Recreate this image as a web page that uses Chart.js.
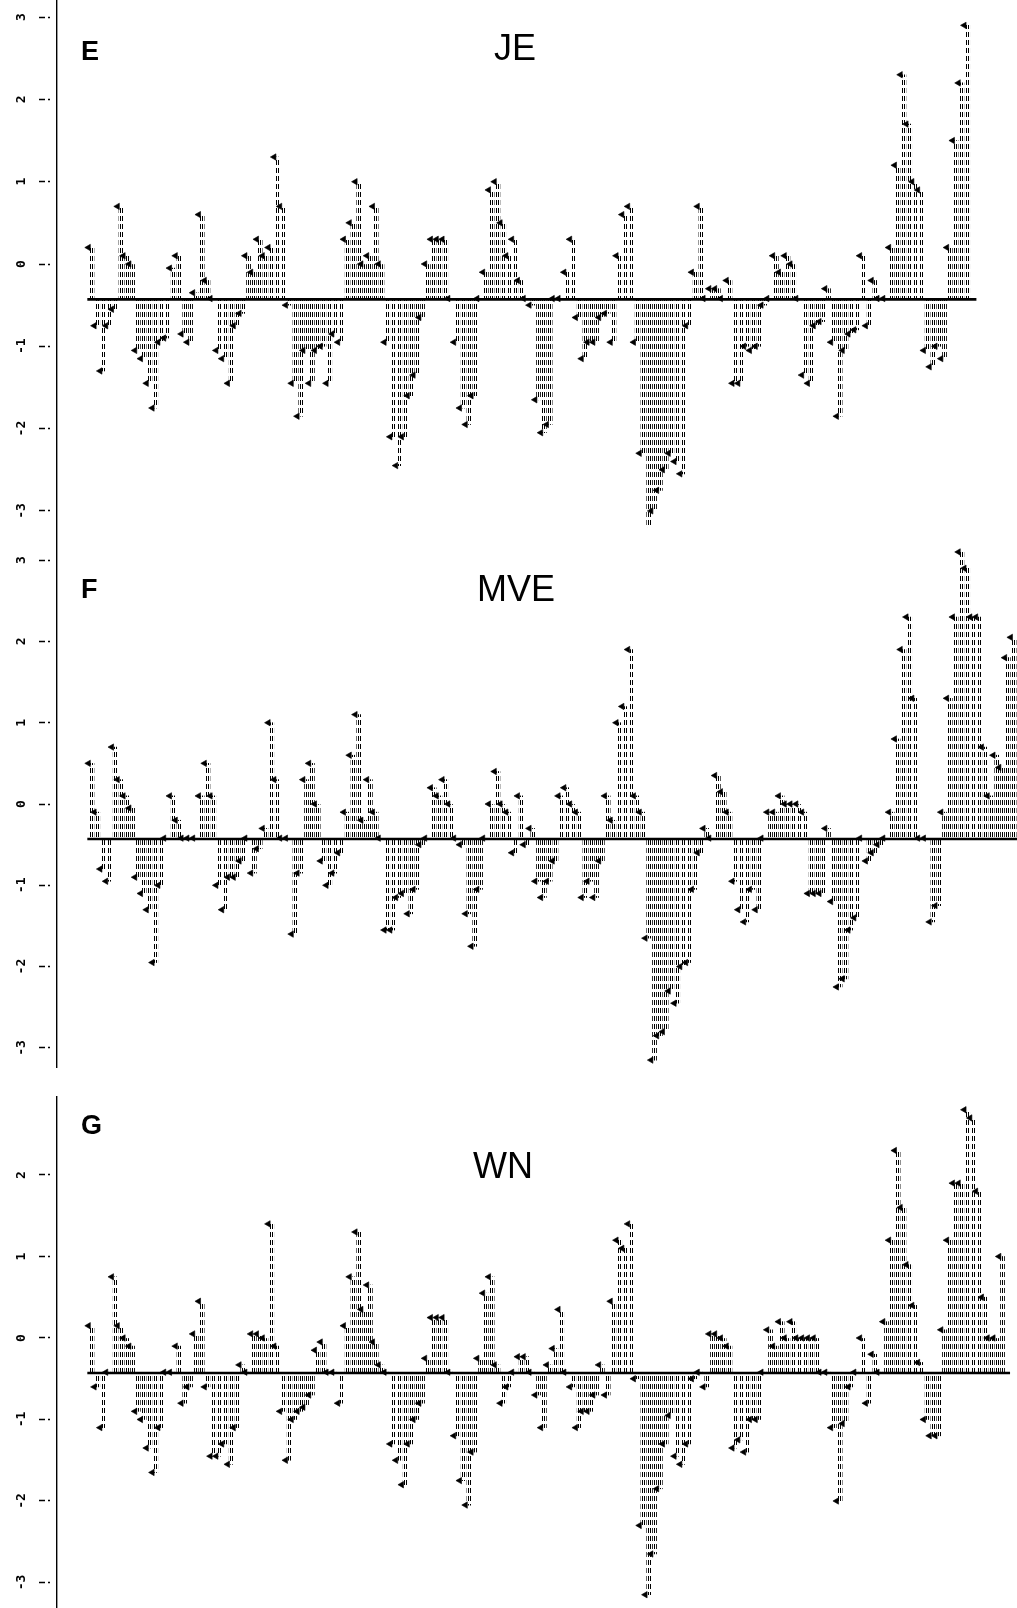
<!DOCTYPE html>
<html>
<head>
<meta charset="utf-8">
<script src="https://cdn.jsdelivr.net/npm/chart.js@4.4.1/dist/chart.umd.min.js"></script>
<style>
  html, body { margin: 0; padding: 0; background: #fff; }
  #page { position: relative; width: 1017px; height: 1608px; overflow: hidden; }
  canvas { position: absolute; left: 0; }
  .letter { position: absolute; font: bold 27px "Liberation Sans", Arial, sans-serif; line-height: 1; color: #000; }
  .name { position: absolute; font: 36px "Liberation Sans", Arial, sans-serif; line-height: 1; color: #000; transform: translate(-50%, -50%); }
</style>
</head>
<body>
<div id="page">
  <canvas id="chartE" width="1017" height="528" style="top:0px"></canvas>
  <canvas id="chartF" width="1017" height="540" style="top:528px"></canvas>
  <canvas id="chartG" width="1017" height="512" style="top:1096px"></canvas>
  <div class="letter" style="left:81px; top:38px">E</div>
  <div class="name" style="left:515px; top:48px">JE</div>
  <div class="letter" style="left:81px; top:576px">F</div>
  <div class="name" style="left:516px; top:589px">MVE</div>
  <div class="letter" style="left:81px; top:1112px">G</div>
  <div class="name" style="left:503px; top:1166px">WN</div>
</div>
<script>
// one column per period, 160 periods, same time axis in all three panels
const periods = [...Array(160).keys()];
const yTicks = [-3, -2, -1, 0, 1, 2, 3];
const baseLevel = -0.43;

// panel E (JE)
const valuesJE = [
  0.2, -0.75, -1.3, -0.75, -0.55, 0.7, 0.1, 0.0, -1.05, -1.15,
  -1.45, -1.75, -0.95, -0.9, -0.05, 0.1, -0.85, -0.95, -0.35, 0.6,
  -0.2, -0.42, -1.05, -1.15, -1.45, -0.75, -0.6, 0.1, -0.1, 0.3,
  0.1, 0.2, 1.3, 0.7, -0.5, -1.45, -1.85, -1.05, -1.45, -1.05,
  -1.0, -1.45, -0.85, -0.95, 0.3, 0.5, 1.0, 0.0, 0.1, 0.7,
  0.0, -0.95, -2.1, -2.45, -2.1, -1.6, -1.35, -0.65, 0.0, 0.3,
  0.3, 0.3, -0.42, -0.95, -1.75, -1.95, -1.6, -0.42, -0.1, 0.9,
  1.0, 0.5, 0.1, 0.3, -0.2, -0.42, -0.5, -1.65, -2.05, -1.95,
  -0.42, -0.42, -0.1, 0.3, -0.65, -1.15, -0.95, -0.95, -0.65, -0.6,
  -0.95, 0.1, 0.6, 0.7, -0.95, -2.3, -3.25, -3.0, -2.75, -2.5,
  -2.3, -2.4, -2.55, -0.75, -0.1, 0.7, -0.42, -0.3, -0.3, -0.42,
  -0.2, -1.45, -1.45, -1.0, -1.05, -1.0, -0.5, -0.42, 0.1, -0.1,
  0.1, 0.0, -0.42, -1.35, -1.45, -0.75, -0.7, -0.3, -0.95, -1.85,
  -1.05, -0.85, -0.8, 0.1, -0.75, -0.2, -0.42, -0.42, 0.2, 1.2,
  2.3, 1.7, 1.0, 0.9, -1.05, -1.25, -1.0, -1.15, 0.2, 1.5,
  2.2, 2.9, null, null, null, null, null, null, null, null
];

// panel F (MVE)
const valuesMVE = [
  0.5, -0.1, -0.8, -0.95, 0.7, 0.3, 0.1, -0.05, -0.9, -1.1,
  -1.3, -1.95, -1.0, -0.42, 0.1, -0.2, -0.42, -0.42, -0.42, 0.1,
  0.5, 0.1, -1.0, -1.3, -0.9, -0.9, -0.7, -0.42, -0.85, -0.55,
  -0.3, 1.0, 0.3, -0.42, -0.42, -1.6, -0.85, 0.3, 0.5, 0.0,
  -0.7, -1.0, -0.85, -0.6, -0.1, 0.6, 1.1, -0.2, 0.3, -0.1,
  -0.42, -1.55, -1.55, -1.15, -1.1, -1.35, -1.05, -0.5, -0.42, 0.2,
  0.1, 0.3, 0.0, -0.42, -0.5, -1.35, -1.75, -1.05, -0.42, 0.0,
  0.4, 0.0, -0.1, -0.6, 0.1, -0.5, -0.3, -0.95, -1.15, -0.95,
  -0.7, 0.1, 0.2, 0.0, -0.1, -1.15, -0.95, -1.15, -0.7, 0.1,
  -0.2, 1.0, 1.2, 1.9, 0.1, -0.1, -1.65, -3.15, -2.85, -2.8,
  -2.3, -2.45, -2.0, -1.95, -1.05, -0.6, -0.3, -0.42, 0.35, 0.15,
  -0.1, -0.95, -1.3, -1.45, -1.05, -1.3, -0.42, -0.1, -0.1, 0.1,
  0.0, 0.0, 0.0, -0.1, -1.1, -1.1, -1.1, -0.3, -1.2, -2.25,
  -2.15, -1.55, -1.4, -0.42, -0.7, -0.6, -0.5, -0.42, -0.1, 0.8,
  1.9, 2.3, 1.3, -0.42, -0.42, -1.45, -1.25, -0.1, 1.3, 2.3,
  3.1, 2.9, 2.3, 2.3, 0.7, 0.1, 0.6, 0.45, 1.8, 2.05
];

// panel G (WN)
const valuesWN = [
  0.15, -0.6, -1.1, -0.42, 0.75, 0.15, 0.0, -0.1, -0.9, -1.0,
  -1.35, -1.65, -1.1, -0.42, -0.42, -0.1, -0.8, -0.6, 0.05, 0.45,
  -0.6, -1.45, -1.45, -1.3, -1.55, -1.1, -0.33, -0.42, 0.05, 0.05,
  0.0, 1.4, -0.1, -0.9, -1.5, -1.0, -0.9, -0.85, -0.7, -0.15,
  -0.05, -0.42, -0.42, -0.8, 0.15, 0.75, 1.3, 0.35, 0.65, -0.05,
  -0.33, -0.42, -1.3, -1.5, -1.8, -1.3, -1.0, -0.8, -0.25, 0.25,
  0.25, 0.25, -0.42, -1.2, -1.75, -2.05, -1.4, -0.25, 0.55, 0.75,
  -0.33, -0.8, -0.6, -0.42, -0.23, -0.23, -0.42, -0.7, -1.1, -0.33,
  -0.13, 0.35, -0.42, -0.6, -1.1, -0.9, -0.9, -0.7, -0.33, -0.7,
  0.45, 1.2, 1.1, 1.4, -0.5, -2.3, -3.15, -2.65, -1.85, -1.3,
  -0.95, -1.45, -1.55, -1.3, -0.5, -0.42, -0.6, 0.05, 0.05, 0.0,
  -0.1, -1.35, -1.25, -1.4, -1.0, -1.0, -0.42, 0.1, -0.1, 0.2,
  0.0, 0.2, 0.0, 0.0, 0.0, 0.0, -0.42, -0.42, -1.1, -2.0,
  -1.05, -0.6, -0.42, 0.0, -0.8, -0.2, -0.42, 0.2, 1.2, 2.3,
  1.6, 0.9, 0.4, -0.3, -1.0, -1.2, -1.2, 0.1, 1.2, 1.9,
  1.9, 2.8, 2.7, 1.8, 0.5, 0.0, 0.0, 1.0, null, null
];

// printer-like dotted fill for the columns
function makeDots() {
  const c = document.createElement('canvas');
  c.width = 2;
  c.height = 8;
  const g = c.getContext('2d');
  g.fillStyle = '#000';
  g.fillRect(0, 0, 1, 5);
  return g.createPattern(c, 'repeat');
}
const dots = makeDots();

function makePanel(id, values, yMin, yMax, lineEnd) {
  const bars = [];
  const marks = [];
  periods.forEach(function (p) {
    const v = values[p];
    if (v === null) return;
    bars.push({x: p, y: [baseLevel, v]});
    marks.push({x: p - 0.6, y: v});
  });

  new Chart(document.getElementById(id), {
    type: 'bar',
    data: {
      datasets: [{
        type: 'line',
        data: marks,
        showLine: false,
        pointStyle: 'triangle',
        rotation: -90,
        pointRadius: 3.7,
        pointBackgroundColor: '#000',
        pointBorderColor: '#000',
        pointBorderWidth: 0.6,
        order: 1
      }, {
        type: 'line',
        data: [{x: -0.8, y: baseLevel}, {x: lineEnd, y: baseLevel}],
        borderColor: '#000',
        borderWidth: 2.6,
        pointRadius: 0,
        order: 2
      }, {
        data: bars,
        backgroundColor: dots,
        borderWidth: 0,
        barThickness: 4,
        order: 3
      }]
    },
    options: {
      responsive: false,
      animation: false,
      devicePixelRatio: 1,
      layout: { padding: 0, autoPadding: false },
      plugins: { legend: { display: false }, tooltip: { enabled: false } },
      scales: {
        x: {
          type: 'linear',
          display: false,
          offset: false,
          min: -6.03,
          max: 159.5
        },
        y: {
          min: yMin,
          max: yMax,
          afterBuildTicks: function (scale) {
            scale.ticks = yTicks.filter(t => t >= scale.min && t <= scale.max).map(t => ({value: t}));
          },
          afterFit: function (scale) {
            scale.width = 57;
            scale.paddingTop = 0;
            scale.paddingBottom = 0;
          },
          border: { display: true, color: '#000', width: 1.4, dash: [40, 5] },
          grid: {
            display: true,
            drawOnChartArea: false,
            drawTicks: true,
            tickLength: 18,
            tickWidth: 1.5,
            tickColor: '#000',
            tickBorderDash: [6, 3, 2, 20],
            color: '#000'
          },
          ticks: {
            minRotation: 90,
            maxRotation: 90,
            crossAlign: 'center',
            padding: 10,
            color: '#000',
            font: { family: 'DejaVu Sans Mono', size: 13, weight: 'bold' },
            callback: v => String(v)
          }
        }
      }
    }
  });
}

makePanel('chartE', valuesJE, -3.208, 3.208, 152.5);
makePanel('chartF', valuesMVE, -3.247, 3.395, 159.5);
makePanel('chartG', valuesWN, -3.313, 2.969, 158.3);
</script>
</body>
</html>
